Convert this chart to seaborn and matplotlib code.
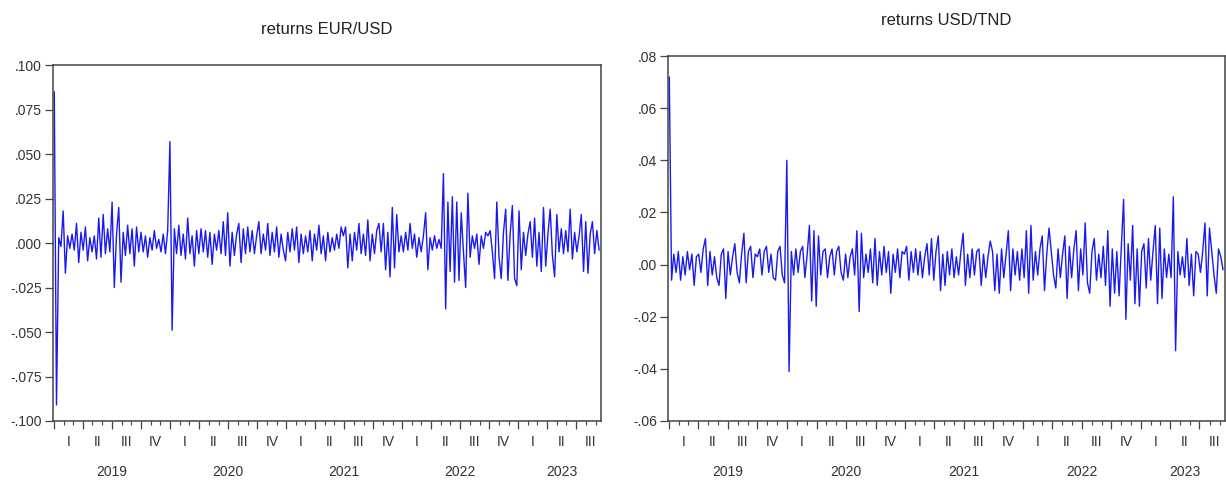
import numpy as np
import pandas as pd
import matplotlib
matplotlib.use("Agg")
import matplotlib.pyplot as plt
import matplotlib.dates as mdates
import matplotlib.transforms as mtransforms
from matplotlib.ticker import FuncFormatter
import seaborn as sns

# weekly returns, in thousandths (one row = one quarter)
eur_usd_permil = [
    85, -91, 3, -2, 18, -17, 4, -3, 5, -4, 11, -11, 6,        # 2019 I
    -4, 9, -10, 3, -5, 4, -9, 14, -8, 16, -6, 8, -5,          # 2019 II
    23, -25, 5, 20, -22, 6, -7, 10, -6, 8, -13, 9, -5,        # 2019 III
    6, -5, 4, -8, 3, -4, 7, -3, 2, -5, 5, -6, 7,              # 2019 IV
    57, -49, 8, -6, 10, -7, 5, -9, 14, -6, 4, -13, 7,         # 2020 I
    -6, 8, -5, 7, -8, 6, -12, 5, -4, 7, -6, 12, -7,           # 2020 II
    17, -13, 6, -7, 5, 11, -11, 8, -6, 9, -5, 7, -6,          # 2020 III
    4, 12, -6, 5, -4, 11, -7, 6, -5, 9, -8, 5, -4,            # 2020 IV
    -10, 6, -5, 8, -4, 9, -11, 5, -6, 4, -5, 7, -10,          # 2021 I
    5, -4, 10, -6, 4, -10, 6, -5, 3, -4, 5, -3, 9,            # 2021 II
    4, 9, -14, 5, -10, 6, -4, 11, -6, 5, -7, 13, -10,         # 2021 III
    5, -6, 7, 11, -5, 11, -15, 6, -19, 20, -14, 16, -5,       # 2021 IV
    4, -5, 6, -4, 11, -3, 5, -8, 3, -5, 4, 17, -15,           # 2022 I
    3, -4, 4, -3, 2, -3, 39, -37, 23, -16, 26, -22, 23,       # 2022 II
    -21, 17, -5, -25, 28, -8, 4, -3, 5, -12, 4, -3, 6,        # 2022 III
    4, 7, -5, -20, 23, -8, -20, 6, 19, -21, 5, 21, -20,       # 2022 IV
    -24, 18, -15, 6, -7, 5, 12, -8, 14, -13, 6, -16, 20,      # 2023 I
    -13, 5, 19, -7, -19, 16, -5, 8, -6, 7, -5, 19, -9,        # 2023 II
    6, -5, 4, 16, -16, 12, -17, 5, 12, -6, 7, -4,             # 2023 III
]

usd_tnd_permil = [
    72, -6, 4, -3, 5, -6, 3, -4, 5, -2, 4, -8, 3,             # 2019 I
    4, -3, 6, 10, -8, 5, -4, 3, -5, -8, 4, 6, -13,            # 2019 II
    5, -4, 3, 8, -3, -7, 4, 12, -7, 5, 7, -5, 4,              # 2019 III
    3, 6, -4, 5, 7, -3, 4, -5, -6, 5, 7, -4, -7,              # 2019 IV
    40, -41, 5, -4, 6, -3, 5, 7, -5, 4, 15, -14, 13,          # 2020 I
    -16, 11, -4, 5, 6, -5, 3, 6, -4, 5, 7, -3, -6,            # 2020 II
    4, -5, 3, 6, -4, 13, -18, 12, -5, 4, -3, 6, -7,           # 2020 III
    10, -8, 5, -4, 7, -3, 5, -11, 4, -3, 6, -5, 5,            # 2020 IV
    4, 7, -6, 5, -3, 6, -4, 5, -5, 3, 8, -4, 10,              # 2021 I
    -6, 5, 11, -10, 4, -8, 5, -4, 6, -5, 3, -4, 5,            # 2021 II
    12, -8, 4, -5, 6, -4, 5, 6, -8, 4, -5, 3, 9,              # 2021 III
    5, -10, 4, -11, 6, -5, 4, 13, -10, 6, -4, 5, -6,          # 2021 IV
    6, -5, 13, -11, 15, -6, 5, -4, 6, 11, -10, 4, 14,         # 2022 I
    5, -4, -9, 6, -5, 4, 11, -13, 7, -5, 6, 13, -10,          # 2022 II
    6, -4, 16, -7, -11, 5, 10, -6, 4, -5, 7, -8, 13,          # 2022 III
    -16, 6, -11, 5, -12, 7, 25, -21, 8, -6, 15, -15, 6,       # 2022 IV
    -16, 5, 8, -9, 10, -6, 5, 15, -15, 14, -13, 6, -5,        # 2023 I
    4, -5, 26, -33, 5, -4, 3, -5, 10, -8, 4, -12, 5,          # 2023 II
    4, -3, 5, 16, -12, 14, 5, -4, -11, 6, 3, -2,              # 2023 III
]

dates = pd.date_range("2019-01-01", periods=len(eur_usd_permil), freq="7D")
eur_usd = np.array(eur_usd_permil) / 1000
usd_tnd = np.array(usd_tnd_permil) / 1000

quarters = pd.period_range("2019Q1", "2023Q3", freq="Q")
roman = ["I", "II", "III", "IV"]

titles = ["returns EUR/USD", "returns USD/TND"]
ylims = [(-0.100, 0.100), (-0.06, 0.08)]
ysteps = [0.025, 0.02]
ydigits = [3, 2]

sns.set_style("white")
plt.rcParams["font.family"] = ["Liberation Sans", "DejaVu Sans"]

fig = plt.figure(figsize=(12.26, 4.84), dpi=100)
ax1 = fig.add_axes([53 / 1226, 63 / 484, 548 / 1226, 356 / 484])
ax2 = fig.add_axes([668 / 1226, 63 / 484, 557 / 1226, 365 / 484])

line_col = "#1a1af0"
text_col = "#333333"
xlim = (pd.Timestamp("2018-12-28"), pd.Timestamp("2023-09-18"))


def fmt_tick(digits):
    def f(v, pos):
        v = round(v, digits)
        if v == 0:
            v = 0.0
        s = f"{v:.{digits}f}"
        return s.replace("0.", ".", 1)
    return FuncFormatter(f)


for ax, series, title, ylim, step, nd in zip(
        [ax1, ax2], [eur_usd, usd_tnd], titles, ylims, ysteps, ydigits):
    sns.lineplot(x=dates, y=series, ax=ax, color=line_col, linewidth=1.0)
    ax.set_xlim(*xlim)
    ax.set_ylim(*ylim)
    ax.set_yticks(np.arange(ylim[0], ylim[1] + step / 2, step))
    ax.yaxis.set_major_formatter(fmt_tick(nd))
    ax.set_xlabel("")
    ax.set_ylabel("")
    ax.set_title(title, fontsize=12, color="#222222", pad=22)

    ax.xaxis.set_major_locator(mdates.MonthLocator(bymonth=[1, 4, 7, 10]))
    ax.xaxis.set_minor_locator(mdates.MonthLocator())
    ax.tick_params(axis="x", which="major", length=6, width=0.9,
                   color="#444444", labelbottom=False, bottom=True)
    ax.tick_params(axis="x", which="minor", length=3, width=0.8,
                   color="#444444", bottom=True)
    ax.tick_params(axis="y", length=6, width=0.9, color="#444444",
                   labelsize=10, labelcolor=text_col, pad=2, left=True)
    for sp in ax.spines.values():
        sp.set_visible(True)
        sp.set_color("#444444")
        sp.set_linewidth(1.1)

    # quarter and year labels under the axis, EViews style
    trans = mtransforms.blended_transform_factory(ax.transData, ax.transAxes)
    qtrans = mtransforms.offset_copy(trans, fig=fig, y=-21, units="dots")
    ytrans = mtransforms.offset_copy(trans, fig=fig, y=-51, units="dots")
    year_pos = {}
    for q in quarters:
        mid = q.start_time + (q.end_time - q.start_time) / 2
        ax.text(mid, 0, roman[q.quarter - 1], transform=qtrans,
                ha="center", va="center", fontsize=10, color=text_col)
        year_pos.setdefault(q.year, []).append(mdates.date2num(mid))
    for yr, xs in year_pos.items():
        ax.text(np.mean(xs), 0, str(yr), transform=ytrans,
                ha="center", va="center", fontsize=10, color=text_col)

fig.savefig("out.png", dpi=100)
